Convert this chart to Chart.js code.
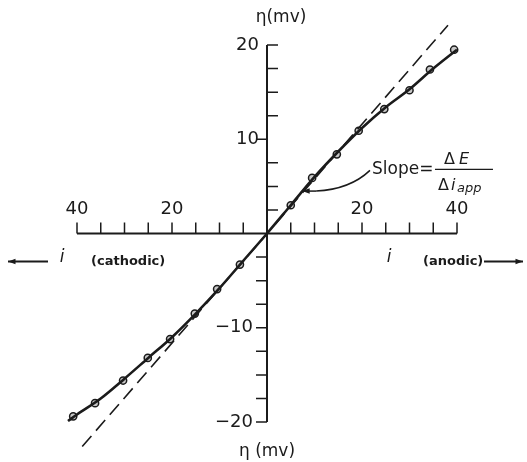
<!DOCTYPE html>
<html>
<head>
<meta charset="utf-8">
<script src="https://cdn.jsdelivr.net/npm/chart.js@4.4.1/dist/chart.umd.min.js"></script>
<style>
  html, body { margin: 0; padding: 0; background: #fff; }
  .chart-wrap { position: relative; width: 527px; height: 462px; }
</style>
</head>
<body>
<div class="chart-wrap"><canvas id="polChart" width="527" height="462"></canvas></div>
<script>
// measured points (current i, overpotential eta in mV); cathodic side is negative i
const measuredI = [-40.8, -36.2, -30.3, -25.1, -20.4, -15.2, -10.5, -5.7, 5, 9.5, 14.7, 19.3, 24.7, 30, 34.3, 39.4];
const measuredEta = [-19.4, -18.0, -15.6, -13.2, -11.2, -8.5, -5.9, -3.3, 3.0, 5.9, 8.4, 10.9, 13.2, 15.2, 17.4, 19.5];

const curveI = [-41.9, -40, -35, -30, -25, -20, -15, -10, -5, 0, 5, 10, 15, 20, 25, 30, 35, 40, 42.1];
const curveEta = [-19.9, -19.2, -17.5, -15.4, -13.2, -11.0, -8.5, -5.8, -2.9, 0, 3.0, 6.0, 8.7, 11.2, 13.4, 15.3, 17.5, 19.5, 20.3];

// dashed initial-slope line
const dashI = [-38.9, 38.1];
const dashEta = [-22.6, 22.1];

// axes
const xTickValues = [-40, -35, -30, -25, -20, -15, -10, -5, 5, 10, 15, 20, 25, 30, 35, 40];
const xLabelValues = [-40, -20, 20, 40];
const xTickLabels = ['40', '20', '20', '40'];
const yTickValues = [-20, -17.5, -15, -12.5, -10, -7.5, -5, -2.5, 2.5, 5, 7.5, 10, 12.5, 15, 17.5, 20];
const yLabelValues = [-20, -10, 10, 20];
const yTickLabels = ['\u221220', '\u221210', '10', '20'];

const ink = '#1b1b1b';
const face = '"DejaVu Sans", "Liberation Sans", sans-serif';

const toXY = (xs, ys) => xs.map((v, k) => ({ x: v, y: ys[k] }));

function arrow(ctx, x1, y1, x2, y2) {
  const a = Math.atan2(y2 - y1, x2 - x1);
  ctx.beginPath();
  ctx.moveTo(x1, y1);
  ctx.lineTo(x2, y2);
  ctx.stroke();
  ctx.beginPath();
  ctx.moveTo(x2, y2);
  ctx.lineTo(x2 - 8 * Math.cos(a - 0.35), y2 - 8 * Math.sin(a - 0.35));
  ctx.lineTo(x2 - 8 * Math.cos(a + 0.35), y2 - 8 * Math.sin(a + 0.35));
  ctx.closePath();
  ctx.fill();
}

const crossAxes = {
  id: 'crossAxes',
  beforeDatasetsDraw(chart) {
    const { ctx, scales: { x, y } } = chart;
    const x0 = x.getPixelForValue(0);
    const y0 = y.getPixelForValue(0);
    ctx.save();
    ctx.strokeStyle = ink;
    ctx.fillStyle = ink;
    ctx.lineWidth = 2;
    ctx.beginPath();
    ctx.moveTo(x.getPixelForValue(-40), y0);
    ctx.lineTo(x.getPixelForValue(40), y0);
    ctx.moveTo(x0, y.getPixelForValue(20));
    ctx.lineTo(x0, y.getPixelForValue(-20));
    ctx.stroke();

    ctx.lineWidth = 1.5;
    ctx.beginPath();
    xTickValues.forEach((v) => {
      const px = x.getPixelForValue(v);
      ctx.moveTo(px, y0);
      ctx.lineTo(px, y0 - 11);
    });
    yTickValues.forEach((v) => {
      const py = y.getPixelForValue(v);
      const dir = v > 0 && v !== 10 ? 1 : -1;
      ctx.moveTo(x0, py);
      ctx.lineTo(x0 + dir * 11, py);
    });
    ctx.stroke();

    ctx.font = `18px ${face}`;
    ctx.textBaseline = 'middle';
    ctx.textAlign = 'center';
    xLabelValues.forEach((v, k) => ctx.fillText(xTickLabels[k], x.getPixelForValue(v), y0 - 24));
    ctx.textAlign = 'right';
    yLabelValues.forEach((v, k) => ctx.fillText(yTickLabels[k], x0 - (v > 0 ? 8 : 14), y.getPixelForValue(v)));

    // axis titles
    ctx.font = `17px ${face}`;
    ctx.textAlign = 'center';
    ctx.fillText('\u03B7(mv)', x0 + 14, y.getPixelForValue(20) - 27);
    ctx.fillText('\u03B7 (mv)', x0, y.getPixelForValue(-20) + 30);

    // i direction labels
    const yi = y0 + 28;
    ctx.font = `italic 17px ${face}`;
    ctx.fillText('i', 62, yi - 4);
    ctx.fillText('i', 389, yi - 4);
    ctx.font = `bold 13px ${face}`;
    ctx.textAlign = 'left';
    ctx.fillText('(cathodic)', 91, yi);
    ctx.fillText('(anodic)', 423, yi);
    ctx.lineWidth = 2;
    arrow(ctx, 48, yi, 8, yi);
    arrow(ctx, 484, yi, 523, yi);
    ctx.restore();
  },
  afterDatasetsDraw(chart) {
    const { ctx, scales: { x, y } } = chart;
    const tipX = x.getPixelForValue(7.4), tipY = y.getPixelForValue(4.5);
    const sx = x.getPixelForValue(22.1), sy = y.getPixelForValue(6.8);
    ctx.save();
    ctx.strokeStyle = ink;
    ctx.fillStyle = ink;
    ctx.lineWidth = 1.5;
    ctx.beginPath();
    ctx.moveTo(sx - 2, sy + 1);
    ctx.quadraticCurveTo(sx - 22, sy + 20, tipX + 14, tipY);
    ctx.stroke();
    arrow(ctx, tipX + 14, tipY, tipX, tipY);

    ctx.font = `17px ${face}`;
    ctx.textBaseline = 'middle';
    ctx.textAlign = 'left';
    ctx.fillText('Slope=', sx, sy);
    const barL = sx + 63, barR = sx + 121;
    ctx.lineWidth = 1.2;
    ctx.beginPath();
    ctx.moveTo(barL, sy);
    ctx.lineTo(barR, sy);
    ctx.stroke();
    ctx.font = `16px ${face}`;
    ctx.fillText('\u0394', barL + 9, sy - 10);
    ctx.font = `italic 16px ${face}`;
    ctx.fillText('E', barL + 24, sy - 10);
    ctx.font = `16px ${face}`;
    ctx.fillText('\u0394', barL + 3, sy + 16);
    ctx.font = `italic 16px ${face}`;
    ctx.fillText('i', barL + 16, sy + 16);
    ctx.font = `italic 13px ${face}`;
    ctx.fillText('app', barL + 22, sy + 19);
    ctx.restore();
  }
};

new Chart(document.getElementById('polChart'), {
  type: 'scatter',
  data: {
    datasets: [
      {
        label: 'curve',
        data: toXY(curveI, curveEta),
        showLine: true,
        borderColor: ink,
        borderWidth: 2.6,
        pointRadius: 0,
        cubicInterpolationMode: 'monotone',
        clip: false
      },
      {
        label: 'initial slope',
        data: toXY(dashI, dashEta),
        showLine: true,
        borderColor: ink,
        borderWidth: 1.6,
        borderDash: [14, 7],
        pointRadius: 0,
        clip: false
      },
      {
        label: 'measured',
        data: toXY(measuredI, measuredEta),
        showLine: false,
        pointRadius: 3.6,
        pointBorderWidth: 1.5,
        pointBorderColor: ink,
        pointBackgroundColor: '#c8c8c8',
        clip: false
      }
    ]
  },
  options: {
    responsive: false,
    animation: false,
    layout: { padding: { left: 77, right: 70, top: 45, bottom: 40 } },
    plugins: { legend: { display: false }, tooltip: { enabled: false } },
    scales: {
      x: { type: 'linear', min: -40, max: 40, display: false },
      y: { type: 'linear', min: -20, max: 20, display: false }
    }
  },
  plugins: [crossAxes]
});
</script>
</body>
</html>
